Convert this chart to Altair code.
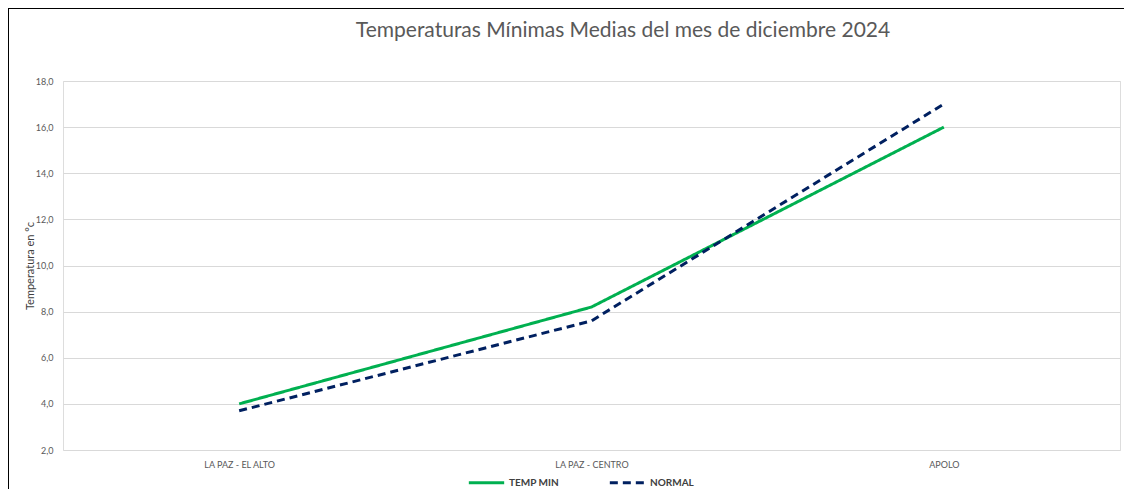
import altair as alt
import pandas as pd

estaciones = ["LA PAZ - EL ALTO", "LA PAZ - CENTRO", "APOLO"]
temp_min = [4.0, 8.2, 16.0]
normal = [3.7, 7.6, 17.0]
series = ["TEMP MIN", "NORMAL"]
colores = ["#00B050", "#002060"]
titulo = "Temperaturas Mínimas Medias del mes de diciembre 2024"

rows = []
for e, v in zip(estaciones, temp_min):
    rows.append({"Estacion": e, "Serie": "TEMP MIN", "Valor": v})
for e, v in zip(estaciones, normal):
    rows.append({"Estacion": e, "Serie": "NORMAL", "Valor": v})
df = pd.DataFrame(rows)

FONT = "Lato"

lines = alt.Chart(df).mark_line(strokeWidth=3).encode(
    x=alt.X("Estacion:N", sort=estaciones,
            scale=alt.Scale(type="point", padding=0.5),
            axis=alt.Axis(title=None, labelAngle=0, domain=False, ticks=False,
                          labelColor="#595959", labelFontSize=9, labelFont=FONT,
                          labelPadding=10)),
    y=alt.Y("Valor:Q", scale=alt.Scale(domain=[2, 18], nice=False, zero=False),
            axis=alt.Axis(title="Temperatura en °c", values=[2, 4, 6, 8, 10, 12, 14, 16, 18],
                          labelExpr="replace(format(datum.value, '.1f'), '.', ',')",
                          domain=False, ticks=False, labelColor="#595959", labelFontSize=9,
                          labelFont=FONT, labelPadding=10, titleFont=FONT, titleFontSize=11,
                          titleFontWeight="normal", titleColor="#404040", titlePadding=0,
                          gridColor="#D9D9D9", gridWidth=1)),
    color=alt.Color("Serie:N", sort=series,
                    scale=alt.Scale(domain=series, range=colores),
                    legend=alt.Legend(title=None, orient="none", direction="horizontal",
                                      legendX=404, legendY=382,
                                      symbolType="stroke", symbolStrokeWidth=3, symbolSize=1250,
                                      labelFont=FONT, labelFontSize=10, labelFontWeight="bold",
                                      labelColor="#404040", labelOffset=3, columnPadding=44)),
    strokeDash=alt.StrokeDash("Serie:N", sort=series,
                              scale=alt.Scale(domain=series, range=[[1, 0], [8, 5]]),
                              legend=None),
)

one = alt.Data(values=[{"t": titulo}])
title_mark = alt.Chart(one).mark_text(font=FONT, fontSize=21, color="#595959",
                                      align="center", baseline="middle").encode(
    text="t:N", x=alt.value(560), y=alt.value(-50))
left_border = alt.Chart(one).mark_rule(color="black", strokeWidth=2).encode(
    x=alt.value(-55), y=alt.value(-74), y2=alt.value(420))
top_border = alt.Chart(one).mark_rule(color="black", strokeWidth=2).encode(
    x=alt.value(-55), x2=alt.value(1065), y=alt.value(-73))

chart = alt.layer(lines, title_mark, left_border, top_border).properties(
    width=1057, height=369,
    autosize=alt.AutoSizeParams(type="none"),
    padding={"left": 55, "right": 4, "top": 73, "bottom": 39},
).configure_view(stroke=None).configure(background="white")

chart.save("out.html", embed_options={"renderer": "svg", "actions": False})
